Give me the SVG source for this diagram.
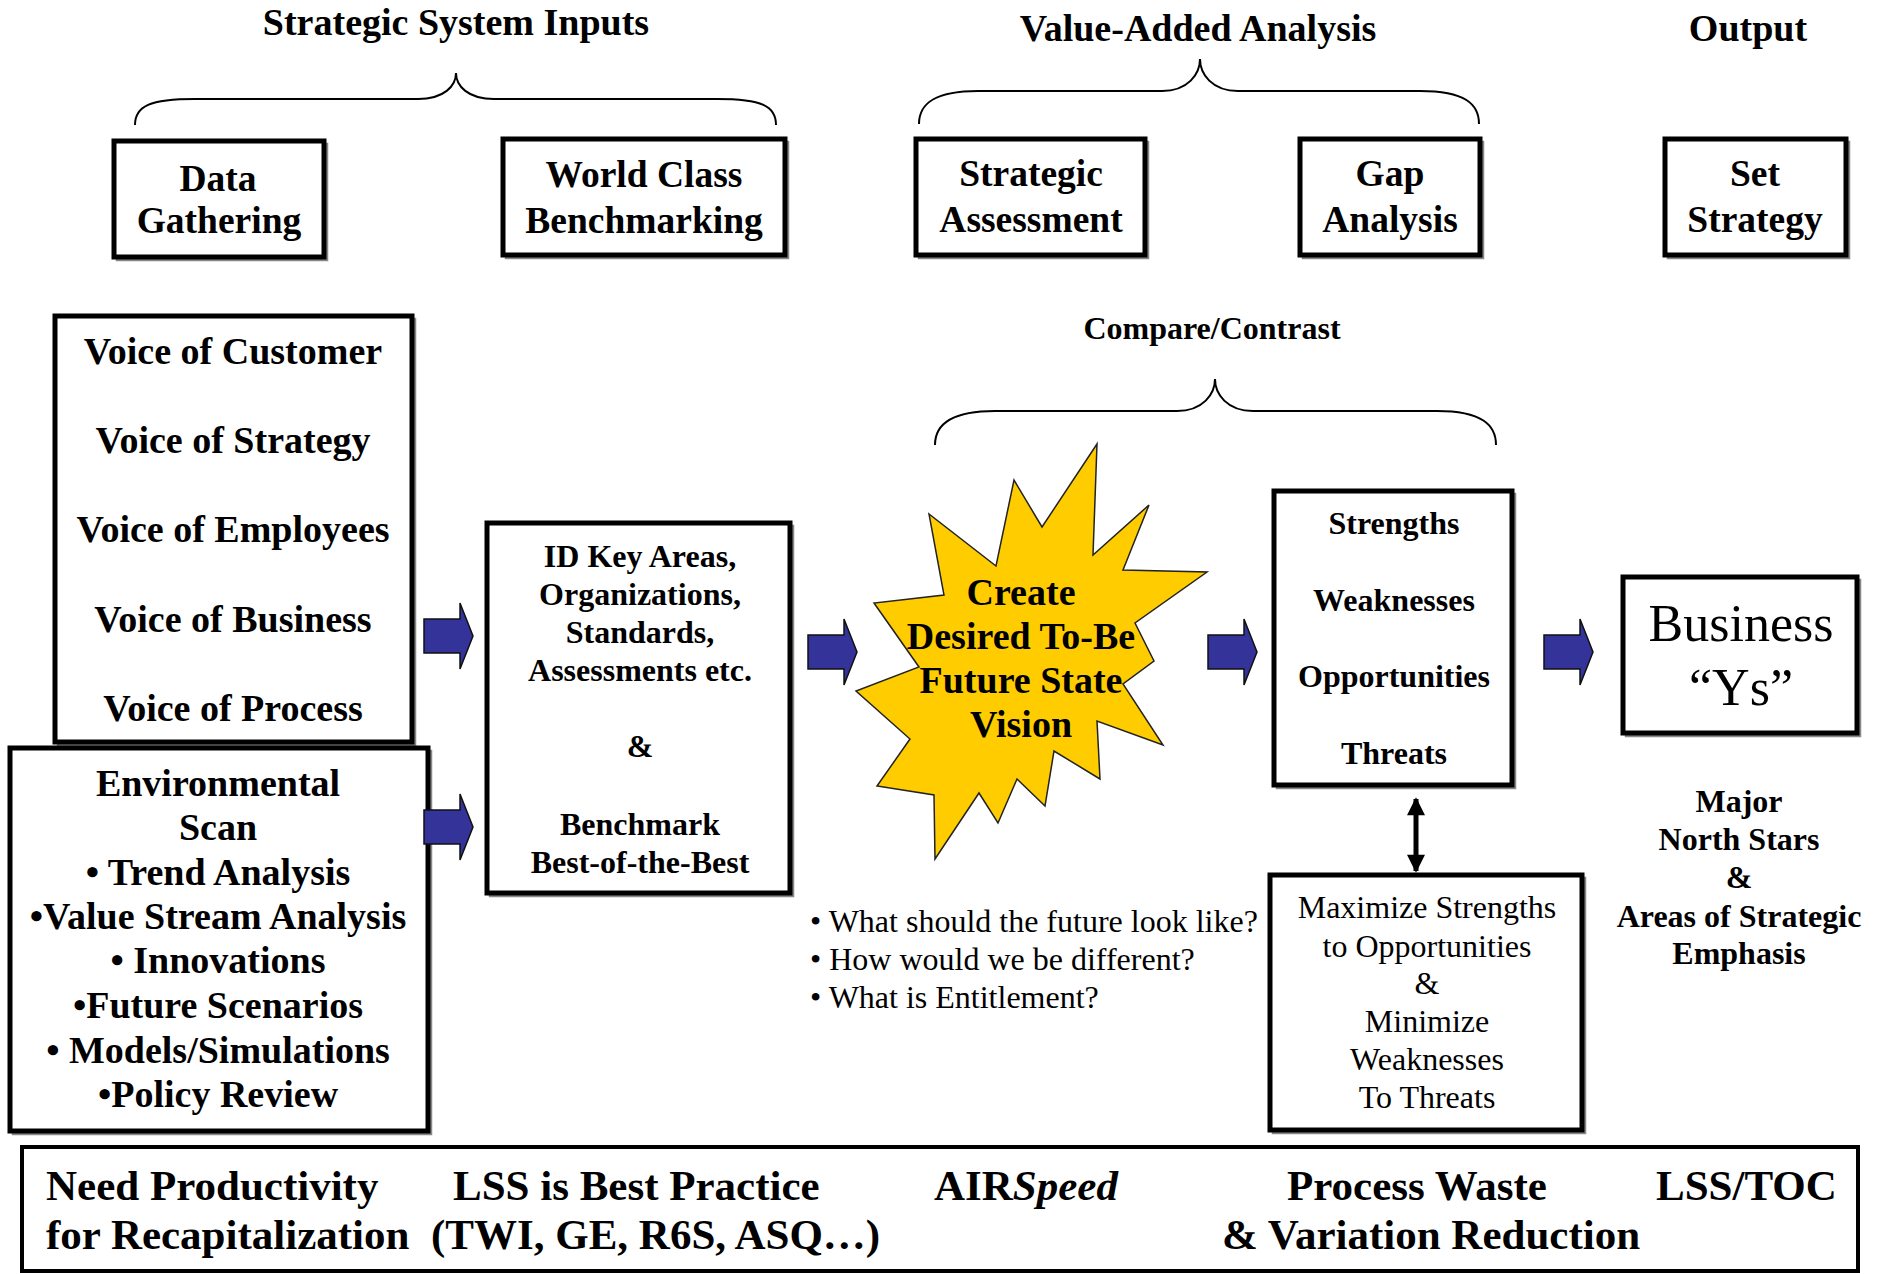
<svg xmlns="http://www.w3.org/2000/svg" width="1877" height="1274" viewBox="0 0 1877 1274">
  <style>
    text { font-family: "Liberation Serif", "Times New Roman", serif; fill: #000; }
    .b { font-weight: bold; }
    .c { text-anchor: middle; }
    .t36 { font-size: 37.5px; }
    .t37 { font-size: 38px; }
    .t32 { font-size: 32px; }
    .t42 { font-size: 43px; }
    .box { fill: #fff; stroke: #000; stroke-width: 5; }
    .shadow { fill: none; stroke: #888; stroke-width: 2.5; }
    .brace { fill: none; stroke: #000; stroke-width: 2; }
    .blk { fill: #333399; stroke: #111; stroke-width: 1.5; }
  </style>
  <defs>
    <!-- block arrow, origin at left end of shaft centre line -->
    <path id="blockArrow" d="M0,-17 H36 V-33 L49,0 L36,33 V17 H0 Z"/>
    <marker id="head" viewBox="0 0 10 10" refX="9" refY="5" markerWidth="4.5" markerHeight="3.6" orient="auto-start-reverse" markerUnits="strokeWidth">
      <path d="M0,0 L10,5 L0,10 Z" fill="#000"/>
    </marker>
  </defs>
  <rect width="1877" height="1274" fill="#fff"/>

  <!-- section headings -->
  <g id="headings">
    <text class="b c t37" x="456" y="35">Strategic System Inputs</text>
    <text class="b c t37" x="1198" y="41">Value-Added Analysis</text>
    <text class="b c t37" x="1748" y="41">Output</text>
    <text class="b c t32" x="1212" y="339">Compare/Contrast</text>
  </g>

  <!-- braces -->
  <g id="braces">
    <path class="brace" d="M135,125 C135,106 150,99 195,99 L418,99 C444,99 456,86 456,73 C456,86 468,99 494,99 L717,99 C762,99 776,106 776,125"/>
    <path class="brace" d="M919,124 C919,104 934,91 978,91 L1162,91 C1188,91 1200,74 1200,59 C1200,74 1212,91 1238,91 L1420,91 C1465,91 1479,104 1479,124"/>
    <path class="brace" d="M935,445 C935,425 950,411 995,411 L1177,411 C1203,411 1215,394 1215,379 C1215,394 1227,411 1253,411 L1437,411 C1482,411 1496,425 1496,445"/>
  </g>

  <!-- top row steps -->
  <g id="data-gathering">
    <rect class="shadow" x="117" y="144" width="210" height="116"/>
    <rect class="box" x="114" y="141" width="210" height="116"/>
    <text class="b c t36" x="218" y="191">Data</text>
    <text class="b c t36" x="219" y="233">Gathering</text>
  </g>
  <g id="world-class">
    <rect class="shadow" x="506" y="142" width="282" height="116"/>
    <rect class="box" x="503" y="139" width="282" height="116"/>
    <text class="b c t36" x="644" y="187">World Class</text>
    <text class="b c t36" x="644" y="233">Benchmarking</text>
  </g>
  <g id="strategic-assessment">
    <rect class="shadow" x="919" y="142" width="229" height="116"/>
    <rect class="box" x="916" y="139" width="229" height="116"/>
    <text class="b c t36" x="1031" y="186">Strategic</text>
    <text class="b c t36" x="1031" y="232">Assessment</text>
  </g>
  <g id="gap-analysis">
    <rect class="shadow" x="1303" y="142" width="180" height="116"/>
    <rect class="box" x="1300" y="139" width="180" height="116"/>
    <text class="b c t36" x="1390" y="186">Gap</text>
    <text class="b c t36" x="1390" y="232">Analysis</text>
  </g>
  <g id="set-strategy">
    <rect class="shadow" x="1668" y="142" width="181" height="116"/>
    <rect class="box" x="1665" y="139" width="181" height="116"/>
    <text class="b c t36" x="1755" y="186">Set</text>
    <text class="b c t36" x="1755" y="232">Strategy</text>
  </g>

  <!-- voices -->
  <g id="voices">
    <rect class="shadow" x="58" y="319" width="357" height="426"/>
    <rect class="box" x="55" y="316" width="357" height="426"/>
    <text class="b c t37" x="233" y="364">Voice of Customer</text>
    <text class="b c t37" x="233" y="453">Voice of Strategy</text>
    <text class="b c t37" x="233" y="542">Voice of Employees</text>
    <text class="b c t37" x="233" y="632">Voice of Business</text>
    <text class="b c t37" x="233" y="721">Voice of Process</text>
  </g>

  <!-- environmental scan -->
  <g id="environmental-scan">
    <rect class="shadow" x="13" y="751" width="418" height="383"/>
    <rect class="box" x="10" y="748" width="418" height="383"/>
    <text class="b c t37" x="218" y="796">Environmental</text>
    <text class="b c t37" x="218" y="840">Scan</text>
    <text class="b c t37" x="218" y="885">• Trend Analysis</text>
    <text class="b c t37" x="218" y="929">•Value Stream Analysis</text>
    <text class="b c t37" x="218" y="973">• Innovations</text>
    <text class="b c t37" x="218" y="1018">•Future Scenarios</text>
    <text class="b c t37" x="218" y="1063">• Models/Simulations</text>
    <text class="b c t37" x="218" y="1107">•Policy Review</text>
  </g>

  <!-- key areas / benchmark -->
  <g id="key-areas">
    <rect class="shadow" x="490" y="526" width="303" height="370"/>
    <rect class="box" x="487" y="523" width="303" height="370"/>
    <text class="b c t32" x="640" y="567">ID Key Areas,</text>
    <text class="b c t32" x="640" y="605">Organizations,</text>
    <text class="b c t32" x="640" y="643">Standards,</text>
    <text class="b c t32" x="640" y="681">Assessments etc.</text>
    <text class="b c t32" x="640" y="757">&amp;</text>
    <text class="b c t32" x="640" y="835">Benchmark</text>
    <text class="b c t32" x="640" y="873">Best-of-the-Best</text>
  </g>

  <!-- future state vision -->
  <g id="vision">
    <polygon fill="#FFCC00" stroke="#222" stroke-width="1.5" points="1097,444 1093,555 1149,505 1123,570 1207,572 1135,623 1154,661 1123,684 1163,745 1097,721 1100,779 1054,751 1045,806 1017,779 998,823 979,793 935,859 934,795 877,786 910,739 856,691 919,667 874,603 944,595 929,514 996,566 1014,480 1042,527"/>
    <text class="b c t37" x="1021" y="605">Create</text>
    <text class="b c t37" x="1021" y="649">Desired To-Be</text>
    <text class="b c t37" x="1021" y="693">Future State</text>
    <text class="b c t37" x="1021" y="737">Vision</text>
  </g>

  <g id="questions">
    <text class="t32" x="810" y="932">• What should the future look like?</text>
    <text class="t32" x="810" y="970">• How would we be different?</text>
    <text class="t32" x="810" y="1008">• What is Entitlement?</text>
  </g>

  <!-- SWOT -->
  <g id="swot">
    <rect class="shadow" x="1277" y="494" width="238" height="294"/>
    <rect class="box" x="1274" y="491" width="238" height="294"/>
    <text class="b c t32" x="1394" y="534">Strengths</text>
    <text class="b c t32" x="1394" y="611">Weaknesses</text>
    <text class="b c t32" x="1394" y="687">Opportunities</text>
    <text class="b c t32" x="1394" y="764">Threats</text>
  </g>

  <g id="maximize">
    <rect class="shadow" x="1273" y="878" width="312" height="255"/>
    <rect class="box" x="1270" y="875" width="312" height="255"/>
    <text class="c t32" x="1427" y="918">Maximize Strengths</text>
    <text class="c t32" x="1427" y="957">to Opportunities</text>
    <text class="c t32" x="1427" y="994">&amp;</text>
    <text class="c t32" x="1427" y="1032">Minimize</text>
    <text class="c t32" x="1427" y="1070">Weaknesses</text>
    <text class="c t32" x="1427" y="1108">To Threats</text>
  </g>

  <!-- output -->
  <g id="business-ys">
    <rect class="shadow" x="1626" y="580" width="234" height="156"/>
    <rect class="box" x="1623" y="577" width="234" height="156"/>
    <text class="c" font-size="52" x="1741" y="641">Business</text>
    <text class="c" font-size="52" x="1741" y="705">“Ys”</text>
  </g>

  <g id="north-stars">
    <text class="b c t32" x="1739" y="812">Major</text>
    <text class="b c t32" x="1739" y="850">North Stars</text>
    <text class="b c t32" x="1739" y="888">&amp;</text>
    <text class="b c t32" x="1739" y="927">Areas of Strategic</text>
    <text class="b c t32" x="1739" y="964">Emphasis</text>
  </g>

  <!-- drivers strip -->
  <g id="drivers">
    <rect fill="#fff" stroke="#000" stroke-width="4" x="22" y="1147" width="1836" height="124"/>
    <text class="b t42" x="46" y="1200">Need Productivity</text>
    <text class="b t42" x="46" y="1249">for Recapitalization</text>
    <text class="b t42" x="453" y="1200">LSS is Best Practice</text>
    <text class="b t42" x="431" y="1249">(TWI, GE, R6S, ASQ…)</text>
    <text class="b t42" x="934" y="1200">AIR<tspan font-style="italic">Speed</tspan></text>
    <text class="b t42" x="1287" y="1200">Process Waste</text>
    <text class="b t42" x="1222" y="1249">&amp; Variation Reduction</text>
    <text class="b t42" x="1656" y="1200">LSS/TOC</text>
  </g>

  <!-- connectors -->
  <g id="connectors">
    <use href="#blockArrow" class="blk" x="424" y="636"/>
    <use href="#blockArrow" class="blk" x="424" y="827"/>
    <use href="#blockArrow" class="blk" x="808" y="652"/>
    <use href="#blockArrow" class="blk" x="1208" y="652"/>
    <use href="#blockArrow" class="blk" x="1544" y="652"/>
    <line x1="1416" y1="799" x2="1416" y2="871" stroke="#000" stroke-width="5" marker-start="url(#head)" marker-end="url(#head)"/>
  </g>
</svg>
